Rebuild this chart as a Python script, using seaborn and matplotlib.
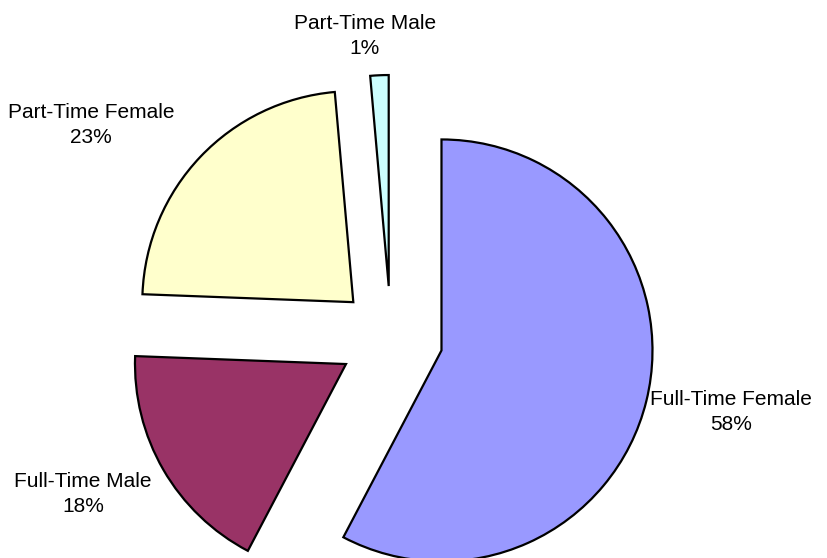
import matplotlib
matplotlib.use("Agg")
import matplotlib.pyplot as plt
import seaborn as sns

# Data (shares in percent)
categories = ["Full-Time Female", "Full-Time Male", "Part-Time Female", "Part-Time Male"]
shares = [57.7, 17.9, 23.0, 1.4]
colors = ["#9999FF", "#993366", "#FFFFCC", "#CCFFFF"]

# Label placement (data units = pixels, pie centre at origin)
label_pos = [(340, -74), (-308, -156), (-300, 213), (-26, 302)]

sns.set_style("white")
plt.rcParams["font.family"] = ["Liberation Sans", "DejaVu Sans"]

fig = plt.figure(figsize=(8.28, 5.58), dpi=100)
ax = fig.add_axes([0, 0, 1, 1])

radius = 211
wedges, _ = ax.pie(
    shares,
    colors=colors,
    radius=radius,
    startangle=90,
    counterclock=False,
    explode=[52] * len(shares),
    wedgeprops=dict(edgecolor="black", linewidth=1.6),
)

total = sum(shares)
for name, val, (x, y) in zip(categories, shares, label_pos):
    ax.text(x, y, f"{name}\n{100 * val / total:.0f}%", ha="center", va="center",
            fontsize=15, linespacing=1.4, color="black")

ax.set_aspect("equal")
ax.set_xlim(-391, 828 - 391)
ax.set_ylim(-(558 - 338), 338)
ax.axis("off")

fig.savefig("out.png", dpi=100)
